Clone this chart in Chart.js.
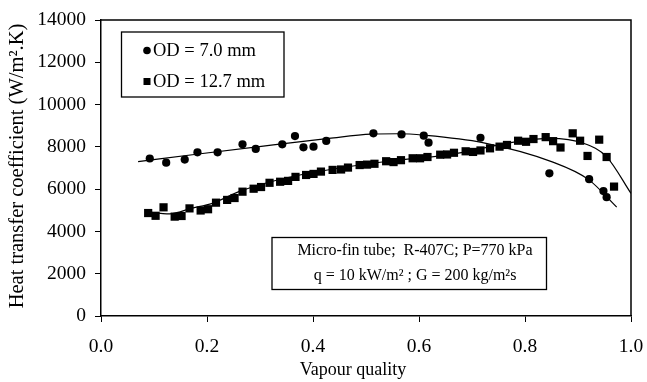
<!DOCTYPE html>
<html>
<head>
<meta charset="utf-8">
<script src="https://cdn.jsdelivr.net/npm/chart.js@4.4.0/dist/chart.umd.min.js"></script>
<style>
  html, body { margin: 0; padding: 0; background: #fff; }
  #wrap { width: 647px; height: 382px; }
</style>
</head>
<body>
<div id="wrap"><canvas id="c" width="647" height="382"></canvas></div>
<script>
// ---- Data ----
const od70X = [0.092, 0.123, 0.158, 0.182, 0.220, 0.267, 0.292, 0.342, 0.366, 0.382, 0.401, 0.425, 0.514, 0.567, 0.609, 0.618, 0.716, 0.846, 0.921, 0.948, 0.954];
const od70Y = [7450, 7250, 7400, 7740, 7740, 8120, 7900, 8120, 8510, 7980, 8010, 8280, 8640, 8590, 8530, 8200, 8430, 6750, 6470, 5910, 5620];

const od127X = [0.089, 0.103, 0.118, 0.139, 0.152, 0.167, 0.188, 0.202, 0.217, 0.238, 0.252, 0.267, 0.288, 0.302, 0.318, 0.338, 0.353, 0.367,
                0.387, 0.401, 0.415, 0.437, 0.453, 0.466, 0.488, 0.502, 0.516, 0.538, 0.552, 0.566, 0.588, 0.602, 0.616, 0.640, 0.653, 0.666,
                0.688, 0.702, 0.716, 0.734, 0.752, 0.766, 0.787, 0.802, 0.816, 0.839, 0.853, 0.867, 0.890, 0.904, 0.918, 0.940, 0.954, 0.968];
const od127Y = [4870, 4740, 5140, 4700, 4730, 5090, 4990, 5050, 5360, 5490, 5580, 5880, 6020, 6100, 6300, 6350, 6390, 6580,
                6670, 6720, 6830, 6910, 6930, 7020, 7140, 7160, 7200, 7320, 7280, 7370, 7460, 7460, 7520, 7630, 7640, 7720,
                7790, 7760, 7830, 7930, 8010, 8090, 8290, 8240, 8370, 8460, 8270, 7970, 8640, 8290, 7570, 8340, 7520, 6120];

// trend curves as traced on the picture
const trend70X = [0.070, 0.180, 0.310, 0.430, 0.510, 0.560, 0.610, 0.720, 0.850, 0.920, 0.973];
const trend70Y = [7300, 7650, 8050, 8400, 8600, 8620, 8550, 8200, 7300, 6450, 5150];

const trend127X = [0.083, 0.130, 0.170, 0.210, 0.260, 0.310, 0.375, 0.450, 0.545, 0.660, 0.785, 0.847, 0.910, 0.954, 1.000];
const trend127Y = [4930, 4830, 5090, 5330, 5880, 6280, 6670, 7000, 7330, 7640, 8250, 8400, 8170, 7530, 5800];

const xTicks = [0.0, 0.2, 0.4, 0.6, 0.8, 1.0];
const yTicks = [0, 2000, 4000, 6000, 8000, 10000, 12000, 14000];

const seriesNames = ['OD = 7.0 mm', 'OD = 12.7 mm'];
const xTitle = 'Vapour quality';
const yTitle = 'Heat transfer coefficient (W/m\u00B2.K)';
const noteLines = ['Micro-fin tube;  R-407C; P=770 kPa', 'q = 10 kW/m\u00B2 ; G = 200 kg/m\u00B2s'];

const FONT = '"Liberation Serif", "Times New Roman", serif';

function pts(xs, ys) { return xs.map((x, i) => ({ x: x, y: ys[i] })); }

const framePlugin = {
  id: 'frame',
  afterDraw(chart) {
    const ctx = chart.ctx, a = chart.chartArea;
    ctx.save();
    ctx.strokeStyle = '#000';
    ctx.lineWidth = 1.5;
    ctx.beginPath();
    ctx.moveTo(a.left, a.top); ctx.lineTo(a.right, a.top); ctx.lineTo(a.right, a.bottom);
    ctx.stroke();

    // legend box
    ctx.lineWidth = 1.3;
    ctx.strokeRect(121.5, 32, 162.5, 65);
    ctx.fillStyle = '#000';
    ctx.beginPath(); ctx.arc(147, 50.5, 3.8, 0, Math.PI * 2); ctx.fill();
    ctx.fillRect(143.5, 78, 7, 7);
    ctx.font = '18.5px ' + FONT;
    ctx.textAlign = 'left';
    ctx.textBaseline = 'middle';
    ctx.fillText(seriesNames[0], 153, 51);
    ctx.fillText(seriesNames[1], 153, 82);

    // note box
    ctx.strokeRect(272, 237.5, 274.5, 52);
    ctx.font = '16px ' + FONT;
    ctx.textAlign = 'center';
    ctx.fillText(noteLines[0], 415, 251);
    ctx.fillText(noteLines[1], 415, 275.5);

    // axis titles
    ctx.font = '18px ' + FONT;
    ctx.fillText(xTitle, 353, 370);
    ctx.save();
    ctx.font = '20.5px ' + FONT;
    ctx.translate(18, 166);
    ctx.rotate(-Math.PI / 2);
    ctx.fillText(yTitle, 0, 0);
    ctx.restore();
    ctx.restore();
  }
};

new Chart(document.getElementById('c'), {
  type: 'scatter',
  data: {
    datasets: [
      { label: seriesNames[0], data: pts(od70X, od70Y), pointStyle: 'circle', pointRadius: 4.1, backgroundColor: '#000', borderColor: '#000', borderWidth: 0, showLine: false },
      { label: seriesNames[1], data: pts(od127X, od127Y), pointStyle: 'rect', pointRadius: 5.8, backgroundColor: '#000', borderColor: '#000', borderWidth: 0, showLine: false },
      { label: 'trend 7.0', data: pts(trend70X, trend70Y), showLine: true, pointRadius: 0, borderColor: '#000', borderWidth: 1.2, cubicInterpolationMode: 'monotone', fill: false },
      { label: 'trend 12.7', data: pts(trend127X, trend127Y), showLine: true, pointRadius: 0, borderColor: '#000', borderWidth: 1.2, cubicInterpolationMode: 'monotone', fill: false }
    ]
  },
  options: {
    responsive: false,
    animation: false,
    layout: { padding: { top: 20, right: 16, left: 0, bottom: 0 } },
    plugins: { legend: { display: false }, tooltip: { enabled: false } },
    scales: {
      x: {
        type: 'linear', min: 0, max: 1,
        afterBuildTicks(s) { s.ticks = xTicks.map(v => ({ value: v })); },
        afterFit(s) { s.height = 66; s.paddingLeft = 0; s.paddingRight = 0; },
        ticks: { callback: v => Number(v).toFixed(1), color: '#000', font: { family: FONT, size: 19.5 }, padding: 13, maxRotation: 0 },
        grid: { drawOnChartArea: false, drawTicks: true, tickLength: 6, color: '#000', lineWidth: 1 },
        border: { display: true, color: '#000', width: 1.5 }
      },
      y: {
        type: 'linear', min: 0, max: 14000,
        afterBuildTicks(s) { s.ticks = yTicks.map(v => ({ value: v })); },
        afterFit(s) { s.width = 101; s.paddingTop = 0; s.paddingBottom = 0; },
        ticks: { callback: v => String(v), color: '#000', font: { family: FONT, size: 19.5 }, padding: 9 },
        grid: { drawOnChartArea: false, drawTicks: true, tickLength: 6, color: '#000', lineWidth: 1 },
        border: { display: true, color: '#000', width: 1.5 }
      }
    }
  },
  plugins: [framePlugin]
});
</script>
</body>
</html>
